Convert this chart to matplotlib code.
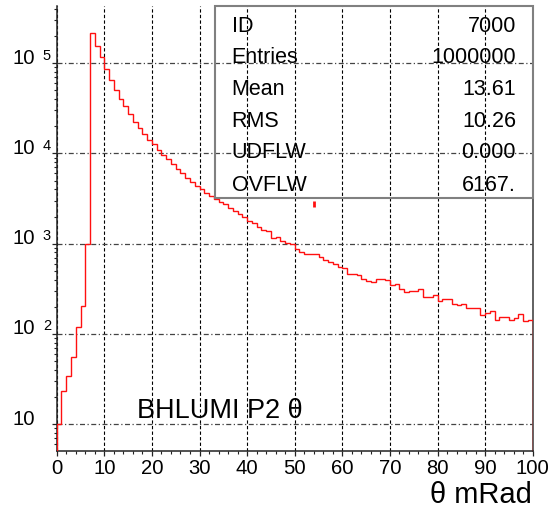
import numpy as np
import matplotlib
matplotlib.use("Agg")
import matplotlib.pyplot as plt
from matplotlib import transforms
from matplotlib.patches import Rectangle
from matplotlib.ticker import MultipleLocator, LogLocator, NullFormatter, FixedLocator

# ---------------- data ----------------
bin_edges = np.arange(0, 101, 1)
counts = [
    10, 23.5, 34, 56, 119, 203, 1000, 215000, 157000, 116000,
    86000, 65000, 50000, 40500, 33600, 27300, 22100, 19000, 16400, 14100,
    12800, 11000, 9700, 8600, 7600, 6800, 6000, 5300, 4800, 4400,
    4000, 3650, 3350, 3150, 2900, 2750, 2500, 2300, 2150, 1980,
    1800, 1680, 1530, 1420, 1370, 1160, 1175, 1060, 1020, 990,
    880, 810, 765, 775, 770, 710, 660, 625, 600, 550,
    536, 464, 464, 445, 410, 383, 375, 405, 405, 400,
    345, 360, 318, 290, 300, 295, 311, 256, 253, 267,
    233, 245, 245, 216, 210, 216, 192, 192, 192, 160,
    171, 178, 144, 155, 152, 141, 149, 167, 139, 143,
]
glitch_x = [53.95, 53.95]
glitch_y = [2520, 2980]

stat_labels = ["ID", "Entries", "Mean", "RMS", "UDFLW", "OVFLW"]
stat_values = ["7000", "1000000", "13.61", "10.26", "0.000", "6167."]
x_ticks = list(range(0, 101, 10))
y_decades = [1, 2, 3, 4, 5]
hist_title = "BHLUMI P2 θ"
x_label = "θ mRad"

# ---------------- figure ----------------
W, H = 553, 510
fig = plt.figure(figsize=(W / 100, H / 100), dpi=100)
plt.rcParams["font.family"] = ["Liberation Sans", "DejaVu Sans"]

ax_l, ax_r, ax_t, ax_b = 56.7, 532.7, 7.3, 452.0
ax = fig.add_axes([ax_l / W, 1 - ax_b / H, (ax_r - ax_l) / W, (ax_b - ax_t) / H])
ax.set_yscale("log")
ax.set_xlim(0, 100)
ax.set_ylim(10 ** 0.7007, 10 ** 5.632)

ax.stairs(counts, bin_edges, baseline=1, color="#ff1010", lw=1.0, zorder=5)
ax.plot(glitch_x, glitch_y, color="#ff1010", lw=2.0, solid_capstyle="butt", zorder=5)

# spines
ax.spines["top"].set_visible(False)
for s in ["left", "bottom"]:
    ax.spines[s].set_color("#222222")
    ax.spines[s].set_linewidth(1.1)
ax.spines["right"].set_color("#555555")
ax.spines["right"].set_linewidth(1.3)

# ticks
ax.xaxis.set_major_locator(FixedLocator(x_ticks))
ax.xaxis.set_minor_locator(MultipleLocator(2))
ax.yaxis.set_major_locator(FixedLocator([10.0 ** d for d in y_decades]))
ax.yaxis.set_minor_locator(LogLocator(base=10, subs=np.arange(2, 10), numticks=20))
ax.yaxis.set_major_formatter(NullFormatter())
ax.yaxis.set_minor_formatter(NullFormatter())
ax.tick_params(axis="both", which="major", direction="out", length=3.8, width=0.9,
               color="#222222", top=False, right=False)
ax.tick_params(axis="both", which="minor", direction="out", length=2.4, width=0.8,
               color="#222222", top=False, right=False)
ax.tick_params(axis="x", which="major", labelsize=14.6, pad=1.5)
ax.set_xticklabels([str(t) for t in x_ticks])

# grid
ax.xaxis.grid(True, which="major", color="black", linestyle=(0, (3, 2)), lw=0.8)
ax.yaxis.grid(True, which="major", color="#444444", linestyle=(0, (4, 2, 1, 2)), lw=0.9)

# y labels "10 ^n" style
px = 1 / 100  # inch per pixel
blend = transforms.blended_transform_factory(ax.transAxes, ax.transData)
for d in y_decades:
    ax.text(0, 10.0 ** d, "10", fontsize=14.6, ha="right", va="baseline",
            transform=blend + transforms.ScaledTranslation(-21.5 * px, 0.5 * px, fig.dpi_scale_trans))
    if d != 1:
        ax.text(0, 10.0 ** d, str(d), fontsize=10.5, ha="right", va="baseline",
                transform=blend + transforms.ScaledTranslation(-5.7 * px, 4.5 * px, fig.dpi_scale_trans))

# histogram title inside plot
ax.text(137 / W, 1 - 418 / H, hist_title, fontsize=19.5, ha="left", va="baseline",
        transform=fig.transFigure, zorder=6)

# x label
fig.text(532 / W, 1 - 503 / H, x_label, fontsize=21, ha="right", va="baseline")

# statistics box
box = Rectangle((215 / W, 1 - 199 / H), (532.7 - 215) / W, (199 - 7.3) / H,
                transform=fig.transFigure, fill=False, edgecolor="#808080", lw=1.5, zorder=3)
fig.patches.append(box)
baselines = [31.7, 62.7, 95.0, 127.3, 158.3, 190.7]
for lab, val, yb in zip(stat_labels, stat_values, baselines):
    fig.text(231.7 / W, 1 - yb / H, lab, fontsize=15.5, ha="left", va="baseline")
    fig.text(516 / W, 1 - yb / H, val, fontsize=15.5, ha="right", va="baseline")

fig.savefig("out.png", dpi=100)
